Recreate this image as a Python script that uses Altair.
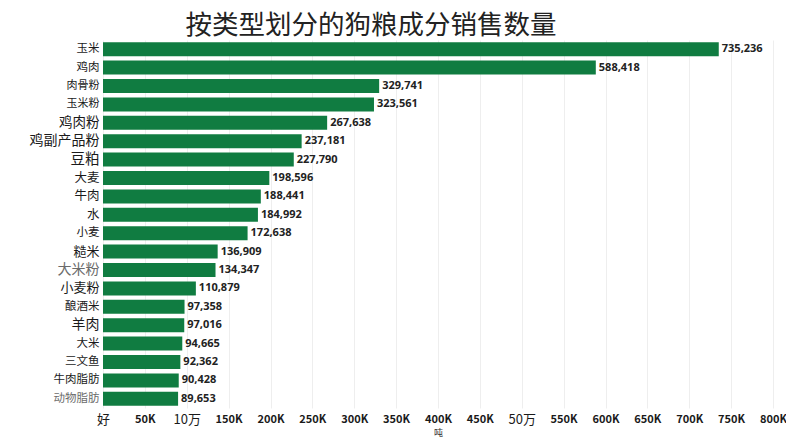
import altair as alt
import pandas as pd

categories = ["玉米", "鸡肉", "肉骨粉", "玉米粉", "鸡肉粉", "鸡副产品粉", "豆粕", "大麦", "牛肉", "水",
              "小麦", "糙米", "大米粉", "小麦粉", "酿酒米", "羊肉", "大米", "三文鱼", "牛肉脂肪", "动物脂肪"]
values = [735236, 588418, 329741, 323561, 267638, 237181, 227790, 198596, 188441, 184992,
          172638, 136909, 134347, 110879, 97358, 97016, 94665, 92362, 90428, 89653]

tick_values = [0, 50000, 100000, 150000, 200000, 250000, 300000, 350000, 400000, 450000,
               500000, 550000, 600000, 650000, 700000, 750000, 800000]
tick_labels = ["好", "50K", "10万", "150K", "200K", "250K", "300K", "350K", "400K", "450K",
               "50万", "550K", "600K", "650K", "700K", "750K", "800K"]

# per-label font sizes (as seen in the picture)
label_sizes = {"鸡肉粉": 13.5, "鸡副产品粉": 14, "豆粕": 14.5, "糙米": 13, "大米粉": 14,
               "小麦粉": 13, "羊肉": 14, "肉骨粉": 11, "玉米粉": 11, "大麦": 12.5,
               "牛肉": 12.5, "水": 12.5}
gray_labels = ["大米粉", "动物脂肪"]

df = pd.DataFrame({"cat": categories, "val": values})

size_expr = " : ".join(
    [f"datum.value === '{k}' ? {v}" for k, v in label_sizes.items()]) + " : 11.5"
color_expr = " || ".join([f"datum.value === '{k}'" for k in gray_labels]) + " ? '#6b6b6b' : '#1a1a1a'"

xlabel_expr = " : ".join(
    [f"datum.value === {v} ? '{l}'" for v, l in zip(tick_values, tick_labels)]) + " : ''"
special = ["好", "10万", "50万"]
special_vals = [v for v, l in zip(tick_values, tick_labels) if l in special]
xw_expr = " || ".join([f"datum.value === {v}" for v in special_vals]) + " ? 'normal' : 'bold'"
xs_expr = " || ".join([f"datum.value === {v}" for v in special_vals]) + " ? 13 : 11"

y_enc = alt.Y("cat:N", sort=categories, title=None,
              scale=alt.Scale(paddingInner=0.24, paddingOuter=0.12),
              axis=alt.Axis(ticks=False, domain=False, labelPadding=4,
                            labelFont="Noto Sans CJK SC",
                            labelFontSize=alt.ExprRef(size_expr),
                            labelColor=alt.ExprRef(color_expr)))

x_enc = alt.X("val:Q", title="吨",
              scale=alt.Scale(domain=[0, 800000], nice=False),
              axis=alt.Axis(values=tick_values, labelExpr=xlabel_expr,
                            labelFont="Noto Sans CJK SC", labelFlush=False,
                            labelOverlap=False,
                            labelFontWeight=alt.ExprRef(xw_expr),
                            labelFontSize=alt.ExprRef(xs_expr),
                            labelColor="#1a1a1a", labelPadding=5,
                            ticks=False, domain=False,
                            grid=True, gridColor="#eeeeee", gridWidth=1,
                            titleFont="Noto Sans CJK SC", titleFontSize=9,
                            titleColor="#333333", titleFontWeight="normal",
                            titlePadding=2))

bars = alt.Chart(df).mark_bar(color="#107c41").encode(x=x_enc, y=y_enc)
text = alt.Chart(df).mark_text(align="left", baseline="middle", dx=3,
                               font="Open Sans", fontWeight="bold",
                               fontSize=11, color="#222222").encode(
    x=alt.X("val:Q"), y=alt.Y("cat:N", sort=categories),
    text=alt.Text("val:Q", format=",d"))

chart = (bars + text).properties(
    width=670, height=368,
    autosize=alt.AutoSizeParams(type="none"),
    padding={"left": 95, "top": 32, "right": 13, "bottom": 30},
    title=alt.TitleParams("按类型划分的狗粮成分销售数量", font="Noto Sans CJK SC",
                          fontSize=26.5, fontWeight="normal", color="#222222",
                          anchor="middle", dx=-67, offset=1),
).configure_view(stroke=None)

chart.save("out.html", embed_options={"renderer": "svg", "actions": False})
